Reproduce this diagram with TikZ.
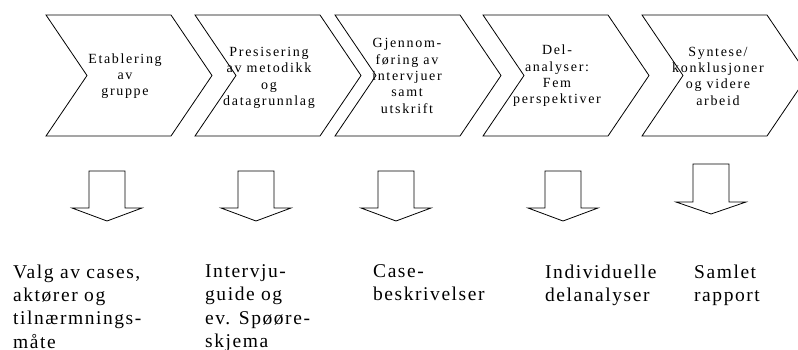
\documentclass[tikz,border=0pt]{standalone}
\usepackage{fontspec}
\setmainfont{Liberation Serif}
\newfontfamily\stagefont{Liberation Serif}[LetterSpace=12]
\newfontfamily\resultfont{Liberation Serif}[LetterSpace=8]
\begin{document}
\begin{tikzpicture}[x=1pt,y=-1pt,
  outline/.style={draw=black,line width=0.8pt,line join=miter},
  stagetext/.style={align=center,inner sep=0pt,
    font=\stagefont\fontsize{14}{16.3}\selectfont},
  resulttext/.style={align=left,inner sep=0pt,anchor=north west,
    font=\resultfont\fontsize{19.5}{23.3}\selectfont}]
\useasboundingbox (0,0) rectangle (798,349);
\begin{scope}
\clip (0,0) rectangle (798,349);
% process chevrons: top-left x, width 125, notch/tip depth 41
\foreach \x in {46,195,335,483,642}{
  \draw[outline] (\x,15) -- (\x+125,15) -- (\x+166,75.5) -- (\x+125,136)
    -- (\x,136) -- (\x+41,75.5) -- cycle;
}
\end{scope}
% stage labels
\node[stagetext] (s1) at (125,76) {Etablering\\av\\gruppe};
\node[stagetext] (s2) at (269,78) {Presisering\\av metodikk\\og\\datagrunnlag};
\node[stagetext] (s3) at (407,76) {Gjennom-\\føring av\\intervjuer\\samt\\utskrift};
\node[stagetext] (s4) at (557,76) {Del-\\analyser:\\Fem\\perspektiver};
\node[stagetext] (s5) at (718,76) {Syntese/\\konklusjoner\\og videre\\arbeid};
% block arrows: centre x, top, shoulder, tip
\foreach \c/\t/\s/\p in {107/171/208/221, 256/171/208/221, 396/171/208/221,
                         563/171/208/221, 711/164/202/214}{
  \draw[outline] (\c-18,\t) -- (\c+18,\t) -- (\c+18,\s) -- (\c+35,\s)
    -- (\c,\p) -- (\c-35,\s) -- (\c-18,\s) -- cycle;
}
% results
\node[resulttext] (r1) at (13,264.5) {Valg av cases,\\aktører og\\tilnærmnings-\\måte};
\node[resulttext] (r2) at (205,264.5) {Intervju-\\guide og\\ev. Spøøre-\\skjema};
\node[resulttext] (r3) at (373,264.5) {Case-\\beskrivelser};
\node[resulttext] (r4) at (545,264.5) {Individuelle\\delanalyser};
\node[resulttext] (r5) at (694,264.5) {Samlet\\rapport};
\end{tikzpicture}
\end{document}
